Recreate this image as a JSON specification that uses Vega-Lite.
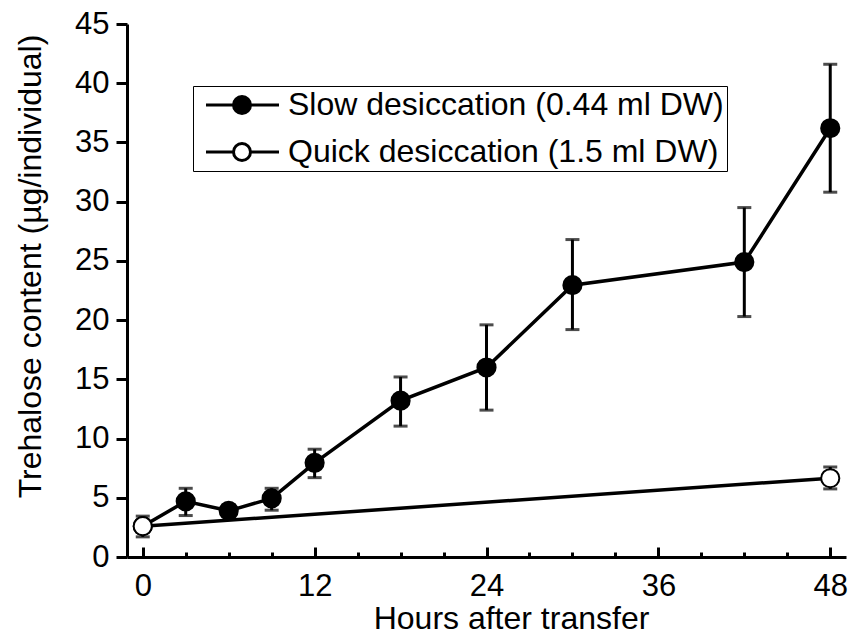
{
  "$schema": "https://vega.github.io/schema/vega-lite/v6.json",
  "autosize": {"type": "none"},
  "width": 719,
  "height": 533,
  "padding": {"left": 127, "top": 24, "right": 3, "bottom": 82},
  "background": "white",
  "config": {
    "view": {"stroke": null},
    "font": "Liberation Sans",
    "axis": {
      "labelFont": "Liberation Sans",
      "titleFont": "Liberation Sans",
      "labelFontSize": 31,
      "titleFontSize": 32,
      "titleFontWeight": "normal",
      "labelColor": "black",
      "titleColor": "black",
      "domainColor": "black",
      "tickColor": "black",
      "domainWidth": 3,
      "tickWidth": 3,
      "grid": false
    }
  },
  "data": {
    "values": [
      {"hour": 0, "value": 2.6, "lo": 2.2, "hi": 3.0, "series": "Slow desiccation (0.44 ml DW)"},
      {"hour": 3, "value": 4.7, "lo": 3.5, "hi": 5.8, "series": "Slow desiccation (0.44 ml DW)"},
      {"hour": 6, "value": 3.9, "lo": 3.5, "hi": 4.4, "series": "Slow desiccation (0.44 ml DW)"},
      {"hour": 9, "value": 4.95, "lo": 3.95, "hi": 5.8, "series": "Slow desiccation (0.44 ml DW)"},
      {"hour": 12, "value": 7.95, "lo": 6.7, "hi": 9.1, "series": "Slow desiccation (0.44 ml DW)"},
      {"hour": 18, "value": 13.2, "lo": 11.05, "hi": 15.2, "series": "Slow desiccation (0.44 ml DW)"},
      {"hour": 24, "value": 16.0, "lo": 12.4, "hi": 19.6, "series": "Slow desiccation (0.44 ml DW)"},
      {"hour": 30, "value": 22.95, "lo": 19.2, "hi": 26.8, "series": "Slow desiccation (0.44 ml DW)"},
      {"hour": 42, "value": 24.9, "lo": 20.3, "hi": 29.5, "series": "Slow desiccation (0.44 ml DW)"},
      {"hour": 48, "value": 36.2, "lo": 30.8, "hi": 41.6, "series": "Slow desiccation (0.44 ml DW)"},
      {"hour": 0, "value": 2.6, "lo": 1.7, "hi": 3.45, "series": "Quick desiccation (1.5 ml DW)"},
      {"hour": 48, "value": 6.65, "lo": 5.75, "hi": 7.6, "series": "Quick desiccation (1.5 ml DW)"}
    ]
  },
  "resolve": {"axis": {"x": "independent"}},
  "layer": [
    {
      "mark": {"type": "line", "color": "black", "strokeWidth": 3.5},
      "encoding": {
        "x": {"field": "hour", "type": "quantitative", "scale": {"domain": [-1.1, 49.1], "nice": false, "zero": false},
          "axis": {"orient": "bottom", "values": [0, 12, 24, 36, 48], "tickSize": -10, "labelPadding": 24, "title": "Hours after transfer", "titlePadding": 2, "titleX": 384}},
        "y": {"field": "value", "type": "quantitative", "scale": {"domain": [0, 45], "nice": false},
          "axis": {"values": [0, 5, 10, 15, 20, 25, 30, 35, 40, 45], "tickSize": 11, "labelPadding": 7, "title": "Trehalose content (µg/individual)", "titlePadding": 27, "titleY": 242}},
        "detail": {"field": "series"}
      }
    },
    {
      "mark": {"type": "rule", "color": "black", "strokeWidth": 3},
      "encoding": {
        "x": {"field": "hour", "type": "quantitative",
          "axis": {"orient": "bottom", "values": [3, 6, 9, 15, 18, 21, 27, 30, 33, 39, 42, 45], "tickSize": -5, "labels": false, "domain": false, "title": null}},
        "y": {"field": "lo", "type": "quantitative"},
        "y2": {"field": "hi"}
      }
    },
    {
      "mark": {"type": "tick", "color": "black", "orient": "horizontal", "size": 14, "thickness": 3},
      "encoding": {
        "x": {"field": "hour", "type": "quantitative", "axis": null},
        "y": {"field": "lo", "type": "quantitative"}
      }
    },
    {
      "mark": {"type": "tick", "color": "black", "orient": "horizontal", "size": 14, "thickness": 3},
      "encoding": {
        "x": {"field": "hour", "type": "quantitative", "axis": null},
        "y": {"field": "hi", "type": "quantitative"}
      }
    },
    {
      "mark": {"type": "point", "shape": "circle", "filled": true, "size": 330, "stroke": "black", "strokeWidth": 2, "opacity": 1},
      "encoding": {
        "x": {"field": "hour", "type": "quantitative", "axis": null},
        "y": {"field": "value", "type": "quantitative"},
        "fill": {
          "field": "series", "type": "nominal",
          "scale": {"domain": ["Slow desiccation (0.44 ml DW)", "Quick desiccation (1.5 ml DW)"], "range": ["black", "white"]},
          "legend": {
            "orient": "none", "legendX": 66, "legendY": 62, "title": null,
            "strokeColor": "black", "fillColor": "white", "padding": 3,
            "labelFont": "Liberation Sans", "labelFontSize": 32, "labelColor": "black", "labelLimit": 0,
            "labelOffset": 60,
            "labelExpr": "datum.label + '\u00a0\u00a0'",
            "symbolType": "M-0.6,0H2.15M3.85,0H6.7M2.15,0A0.85,0.85,0,1,0,3.85,0A0.85,0.85,0,1,0,2.15,0Z",
            "symbolSize": 400, "symbolStrokeColor": "black", "symbolStrokeWidth": 3, "symbolOpacity": 1,
            "rowPadding": 15
          }
        }
      }
    }
  ]
}
